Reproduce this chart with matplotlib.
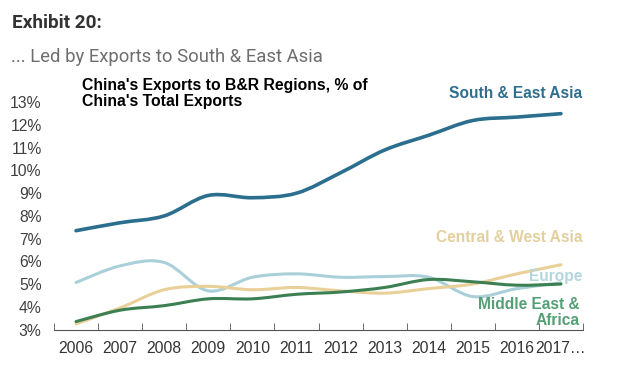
import matplotlib.pyplot as plt
from matplotlib.path import Path
from matplotlib.patches import PathPatch
from matplotlib.ticker import FixedLocator, NullLocator

plt.rcParams["font.family"] = ["Liberation Sans", "DejaVu Sans"]

years = ["2006", "2007", "2008", "2009", "2010", "2011",
         "2012", "2013", "2014", "2015", "2016", "2017…"]
south_east_asia = [7.35, 7.7, 8.0, 8.9, 8.8, 9.0, 9.9, 10.9, 11.55, 12.2, 12.35, 12.5]
europe = [5.07, 5.8, 5.95, 4.7, 5.3, 5.45, 5.3, 5.33, 5.3, 4.45, 4.8, 5.05]
central_west_asia = [3.25, 3.95, 4.75, 4.9, 4.75, 4.85, 4.7, 4.6, 4.8, 5.0, 5.45, 5.85]
middle_east_africa = [3.35, 3.85, 4.05, 4.35, 4.35, 4.55, 4.65, 4.85, 5.2, 5.1, 4.95, 5.0]


def smooth_path(xs, ys, k=1/6):
    # catmull-rom style bezier through the data points
    verts = [(xs[0], ys[0])]
    codes = [Path.MOVETO]
    n = len(xs)
    for i in range(n - 1):
        x0, y0 = xs[max(i - 1, 0)], ys[max(i - 1, 0)]
        x1, y1 = xs[i], ys[i]
        x2, y2 = xs[i + 1], ys[i + 1]
        x3, y3 = xs[min(i + 2, n - 1)], ys[min(i + 2, n - 1)]
        c1 = (x1 + (x2 - x0) * k, y1 + (y2 - y0) * k)
        c2 = (x2 - (x3 - x1) * k, y2 - (y3 - y1) * k)
        verts += [c1, c2, (x2, y2)]
        codes += [Path.CURVE4] * 3
    return Path(verts, codes)


fig = plt.figure(figsize=(6.17, 3.67), dpi=100)
fig.patch.set_facecolor("white")
ax = fig.add_axes([54 / 617, 1 - 329.5 / 367, 529 / 617, 234 / 367])

xs = list(range(len(years)))
series = [
    (europe, "#a9d0d9", 2.2),
    (central_west_asia, "#e9cf98", 2.2),
    (middle_east_africa, "#3b7f52", 2.2),
    (south_east_asia, "#2b6e8e", 2.6),
]
for vals, color, lw in series:
    ax.add_patch(PathPatch(smooth_path(xs, vals), fill=False,
                           edgecolor=color, lw=lw, capstyle="round"))

ax.set_xlim(-0.5, 11.5)
ax.set_ylim(3, 13.3)
ax.set_yticks(range(3, 14))
ax.set_yticklabels([f"{v}%" for v in range(3, 14)], fontsize=11.3, color="#404040")
ax.set_xticks(xs)
ax.set_xticklabels(years, fontsize=11.3, color="#333333")
ax.xaxis.set_minor_locator(FixedLocator([i - 0.5 for i in range(13)]))
ax.tick_params(axis="x", which="major", length=0, pad=8)
ax.tick_params(axis="x", which="minor", direction="in", length=5, color="#555555")
ax.tick_params(axis="y", length=0, pad=9)
ax.yaxis.set_minor_locator(NullLocator())
for s in ["top", "right", "left"]:
    ax.spines[s].set_visible(False)
ax.spines["bottom"].set_color("#555555")
ax.patch.set_alpha(0)

fig.text(12 / 617, 1 - 23 / 367, "Exhibit 20:", fontsize=13.7, fontweight="bold",
         color="#333333", va="center", family=["Roboto", "DejaVu Sans"])
fig.text(11 / 617, 1 - 57 / 367, "... Led by Exports to South & East Asia", fontsize=13.3,
         color="#6e6e6e", va="center", family=["Roboto", "DejaVu Sans"])
fig.text(82 / 617, 1 - 93.5 / 367, "China's Exports to B&R Regions, % of\nChina's Total Exports",
         fontsize=11.3, fontweight="bold", color="black", va="center", linespacing=1.15)

fig.text(582 / 617, 1 - 94 / 367, "South & East Asia", fontsize=11.2, fontweight="bold",
         color="#2e6e8e", ha="right", va="center")
fig.text(582 / 617, 1 - 237 / 367, "Central & West Asia", fontsize=11.2, fontweight="bold",
         color="#e3cf9e", ha="right", va="center")
fig.text(582 / 617, 1 - 277 / 367, "Europe", fontsize=11.2, fontweight="bold",
         color="#b3d6de", ha="right", va="center")
fig.text(580 / 617, 1 - 312.5 / 367, "Middle East &\nAfrica", fontsize=11.2, fontweight="bold",
         color="#559f76", ha="right", va="center", multialignment="right", linespacing=1.15)

fig.savefig("out.png", dpi=100, facecolor="white")
